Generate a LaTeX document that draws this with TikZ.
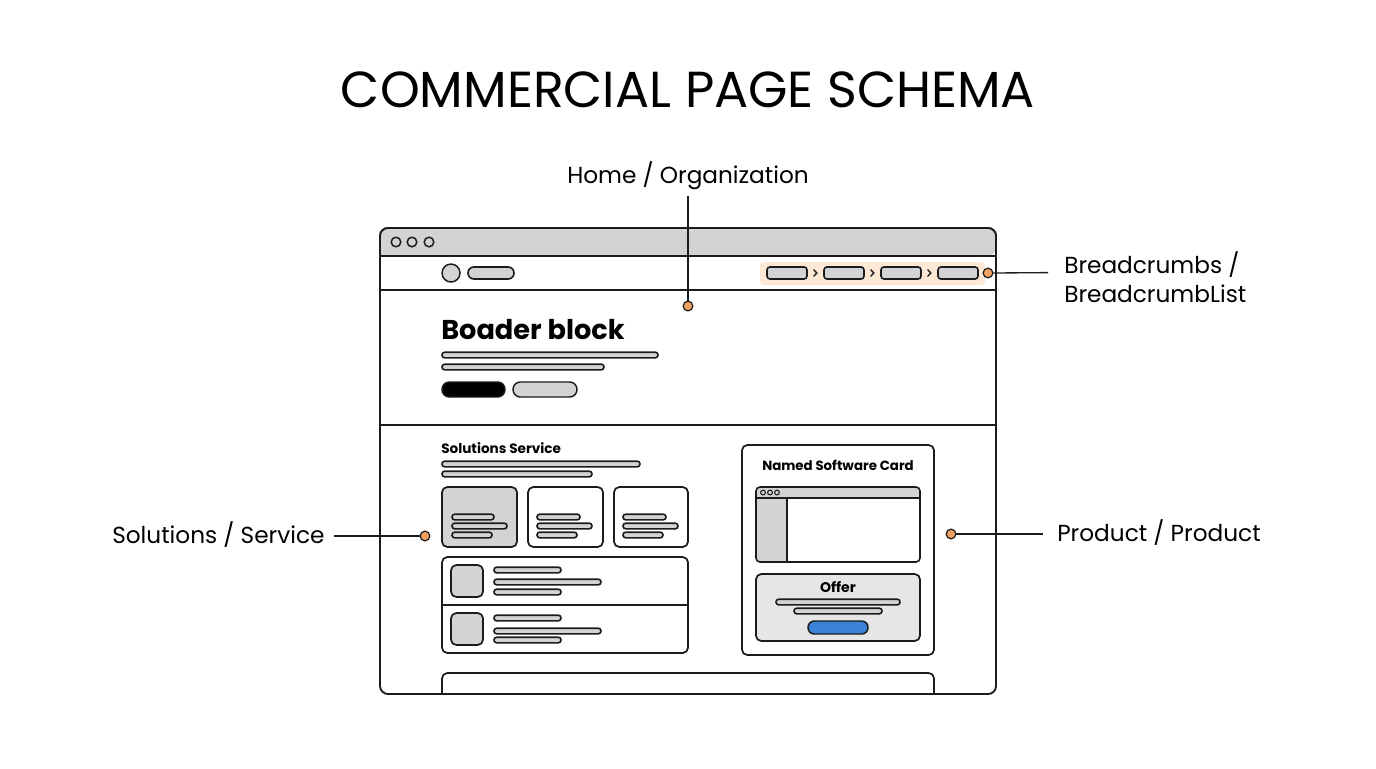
\documentclass[tikz,border=0pt]{standalone}
\usepackage{fontspec}
\setmainfont{Poppins}
\definecolor{ink}{HTML}{1C1C1C}
\definecolor{bar}{HTML}{D3D3D3}
\definecolor{dotor}{HTML}{F0A060}
\definecolor{peach}{HTML}{FDE8D6}
\definecolor{offer}{HTML}{E6E6E6}
\definecolor{btnblue}{HTML}{3B82D6}
\newcommand\pl[3]{\filldraw[pill] (#1,#2-2.8) rectangle (#3,#2+2.8);}
\begin{document}
\begin{tikzpicture}[x=0.75pt,y=-0.75pt,
  ln/.style={draw=ink,line width=1.4pt},
  pill/.style={draw=ink,fill=bar,line width=1.2pt,rounded corners=2pt},
  box/.style={draw=ink,line width=1.3pt,rounded corners=4pt},
  dot/.style={circle,draw=ink,fill=dotor,line width=0.9pt,inner sep=0pt,minimum size=7.3pt},
  conn/.style={draw=ink,line width=1pt},
  lab/.style={font=\fontsize{17.4}{22}\selectfont,text=black,inner sep=0pt}
]
\useasboundingbox (0,0) rectangle (1376,768);
\fill[white] (0,0) rectangle (1376,768);
% title
\node[font=\fontsize{38}{42}\selectfont] (title) at (688,90) {COMMERCIAL PAGE SCHEMA};
% window
\filldraw[fill=white,draw=ink,line width=1.4pt,rounded corners=6pt] (380,228) rectangle (996,694);
\filldraw[fill=bar,draw=none,rounded corners=6pt] (380,256) -- (380,228) -- (996,228) -- (996,256) [sharp corners] -- cycle;
\draw[ln,rounded corners=6pt] (380,256) -- (380,228) -- (996,228) -- (996,256);
\draw[ln] (380,256) -- (996,256);
\draw[ln] (380,290) -- (996,290);
\draw[ln] (380,425) -- (996,425);
\foreach \x in {396,412,429} \draw[ink,line width=1.1pt] (\x,242) circle (4.8);
% nav
\filldraw[draw=ink,fill=bar,line width=1.1pt] (451,273) circle (9);
\filldraw[pill,rounded corners=4.4pt] (468,267) rectangle (514,279);
% breadcrumbs
\fill[peach,rounded corners=2.5pt] (760,262) rectangle (985,285);
\foreach \x in {767,824,881,938} \filldraw[pill,rounded corners=2.2pt] (\x,267) rectangle (\x+40,279);
\foreach \x in {815,872,929} \draw[ink,line width=1pt] (\x-1.5,269.5) -- (\x+1.8,273) -- (\x-1.5,276.5);
% hero
\node[font=\fontsize{20.4}{24}\selectfont\bfseries,anchor=base west,inner sep=0pt] (hero) at (441,339) {Boader block};
\pl{442}{355}{658}
\pl{442}{367}{604}
\filldraw[draw=ink,fill=black,line width=1.1pt,rounded corners=5.5pt] (442,382) rectangle (505,397);
\filldraw[draw=ink,fill=bar,line width=1.1pt,rounded corners=5.5pt] (513,382) rectangle (577,397);
% solutions
\node[font=\fontsize{10.2}{12}\selectfont\bfseries,anchor=base west,inner sep=0pt] (sol) at (441,453) {Solutions Service};
\pl{442}{464}{640}
\pl{442}{474}{592}
\filldraw[box,fill=bar] (442,487) rectangle (517,547);
\draw[box] (528,487) rectangle (603,547);
\draw[box] (614,487) rectangle (688,547);
\pl{452}{517}{494} \pl{452}{526}{507} \pl{452}{535}{492}
\pl{537}{517}{580} \pl{537}{526}{592} \pl{537}{535}{577}
\pl{623}{517}{666} \pl{623}{526}{678} \pl{623}{535}{663}
\draw[box] (442,557) rectangle (688,653);
\draw[ln,line width=1.2pt] (442,605) -- (688,605);
\filldraw[box,fill=bar] (451,565) rectangle (483,597);
\filldraw[box,fill=bar] (451,613) rectangle (483,645);
\pl{494}{570}{561} \pl{494}{582}{601} \pl{494}{592}{561}
\pl{494}{618}{561} \pl{494}{631}{601} \pl{494}{640}{561}
% software card
\draw[box] (742,445) rectangle (934,655);
\node[font=\fontsize{10}{12}\selectfont\bfseries,inner sep=0pt] (card) at (838,465.5) {Named Software Card};
\fill[white,rounded corners=3pt] (756,487) rectangle (920,562);
\fill[bar,rounded corners=3pt] (756,498) -- (756,487) -- (920,487) -- (920,498) [sharp corners] -- cycle;
\fill[bar,rounded corners=3pt] (787,498) -- (756,498) -- (756,562) -- (787,562) [sharp corners] -- cycle;
\draw[ink,line width=1.2pt,rounded corners=3pt] (756,487) rectangle (920,562);
\draw[ink,line width=1.2pt] (756,498) -- (920,498);
\draw[ink,line width=1.2pt] (787,498) -- (787,562);
\foreach \x in {763,770,777} \draw[ink,line width=0.8pt] (\x,492.5) circle (2.4);
\filldraw[box,fill=offer] (756,574) rectangle (920,641);
\node[font=\fontsize{10.5}{12}\selectfont\bfseries,inner sep=0pt] (offer) at (838,587) {Offer};
\pl{776}{602}{900}
\pl{794}{611}{882}
\filldraw[draw=ink,fill=btnblue,line width=1.1pt,rounded corners=4.7pt] (808,621) rectangle (868,634);
% bottom box
\draw[ln,line width=1.3pt,rounded corners=4pt] (442,694) -- (442,673) -- (934,673) -- (934,694);
% callouts
\node[lab,anchor=base] (lHome) at (688,183) {Home / Organization};
\node[dot] (dHome) at (688,306) {};
\draw[conn] (688,196) -- (dHome.north);
\node[lab,anchor=north west,align=left] (lBread) at (1064,251) {Breadcrumbs /\\BreadcrumbList};
\node[dot] (dBread) at (988,273) {};
\draw[conn] (dBread.east) -- (1048,272.6);
\node[lab,anchor=base west] (lSol) at (112,543) {Solutions / Service};
\node[dot] (dSol) at (425,536) {};
\draw[conn] (334,536) -- (dSol.west);
\node[lab,anchor=base west] (lProd) at (1057,541) {Product / Product};
\node[dot] (dProd) at (951,534) {};
\draw[conn] (dProd.east) -- (1043,534);
\end{tikzpicture}
\end{document}
